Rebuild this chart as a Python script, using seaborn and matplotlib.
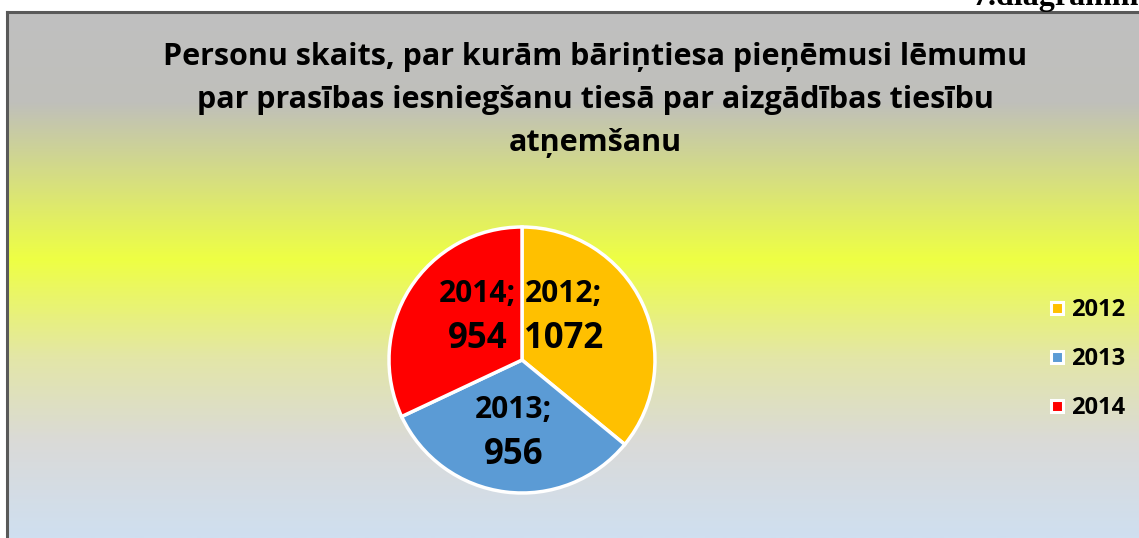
import matplotlib
matplotlib.use("Agg")
import matplotlib.pyplot as plt
import numpy as np
import seaborn as sns
from matplotlib.colors import LinearSegmentedColormap
from matplotlib.lines import Line2D

# dati
years = ["2012", "2013", "2014"]
counts = [1072, 956, 954]
colors = ["#FFC000", "#5B9BD5", "#FF0000"]
title = ("Personu skaits, par kurām bāriņtiesa pieņēmusi lēmumu\n"
         "par prasības iesniegšanu tiesā par aizgādības tiesību\n"
         "atņemšanu")

sns.set_theme(style="white")
plt.rcParams["font.family"] = ["Open Sans", "DejaVu Sans"]
plt.rcParams["text.color"] = "black"

W, H = 1139, 538
fig = plt.figure(figsize=(W / 100, H / 100), dpi=100)

# fons ar krāsu pāreju
bg = fig.add_axes([7 / W, 0, 1 - 7 / W, 1 - 12 / H])
grad = LinearSegmentedColormap.from_list(
    "bg",
    [(0.0, "#c0c0c0"), (0.17, "#bfbfbb"), (0.47, "#eeff44"),
     (0.66, "#e3e6a8"), (0.82, "#dadad8"), (1.0, "#cfdff0")],
)
bg.imshow(np.linspace(0, 1, 512).reshape(-1, 1), aspect="auto", cmap=grad,
          extent=[0, 1, 0, 1], origin="upper")
bg.set_xlim(0, 1)
bg.set_ylim(0, 1)
bg.set_xticks([])
bg.set_yticks([])
for side in ["right", "bottom"]:
    bg.spines[side].set_visible(False)
for side in ["left", "top"]:
    bg.spines[side].set_color("#595959")
    bg.spines[side].set_linewidth(2.2)

fig.text(972 / W, 1 - 5 / H, "7.diagramm", family="Liberation Serif",
         weight="bold", fontsize=23, va="baseline", ha="left")

fig.text(595 / W, 1 - 100 / H, title, ha="center", va="center",
         fontsize=22, weight="bold", linespacing=1.55)

# sektoru diagramma
cx, cy, r = 522, 360, 140
ax = fig.add_axes([(cx - r) / W, (H - cy - r) / H, 2 * r / W, 2 * r / H])
wedges, _ = ax.pie(counts, colors=colors, startangle=90, counterclock=False,
                   radius=0.95,
                   wedgeprops=dict(edgecolor="white", linewidth=2.5))
ax.set_xlim(-1, 1)
ax.set_ylim(-1, 1)
ax.set_aspect("equal")
ax.axis("off")

label_pos = [(0.295, 0.31), (-0.06, -0.52), (-0.32, 0.31)]
for yr, val, (x, y) in zip(years, counts, label_pos):
    ax.text(x, y + 0.16, f"{yr};", ha="center", va="center",
            fontsize=21.5, weight="bold")
    ax.text(x, y - 0.16, f"{val}", ha="center", va="center",
            fontsize=25, weight="bold")

handles = [Line2D([], [], marker="s", linestyle="", markersize=9,
                  markerfacecolor=c, markeredgecolor="white",
                  markeredgewidth=2.2) for c in colors]
fig.legend(handles, years, loc="center left",
           bbox_to_anchor=(1024 / W, 1 - 359 / H), frameon=False,
           prop=dict(weight="bold", size=17), labelspacing=1.05,
           handletextpad=0.1, handlelength=1.0)

fig.savefig("out.png", dpi=100)
